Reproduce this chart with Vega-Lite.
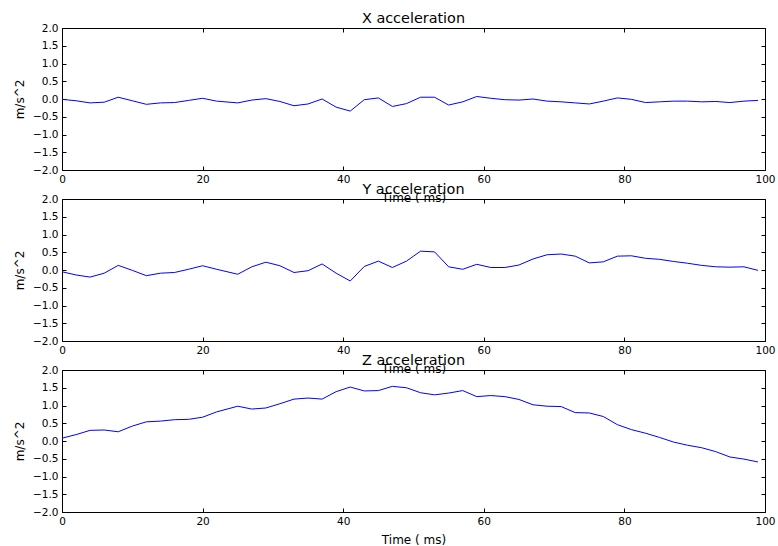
{
  "$schema": "https://vega.github.io/schema/vega-lite/v6.json",
  "background": "white",
  "padding": {"left": 13, "top": 10, "right": 5, "bottom": 2},
  "data": {"values": [
    {"t":0,"ax":-0.01,"ay":-0.05,"az":0.08},
    {"t":2,"ax":-0.05,"ay":-0.14,"az":0.18},
    {"t":4,"ax":-0.11,"ay":-0.20,"az":0.30},
    {"t":6,"ax":-0.09,"ay":-0.09,"az":0.31},
    {"t":8,"ax":0.05,"ay":0.13,"az":0.26},
    {"t":10,"ax":-0.05,"ay":-0.01,"az":0.42},
    {"t":12,"ax":-0.15,"ay":-0.16,"az":0.54},
    {"t":14,"ax":-0.11,"ay":-0.09,"az":0.56},
    {"t":16,"ax":-0.10,"ay":-0.07,"az":0.60},
    {"t":18,"ax":-0.04,"ay":0.02,"az":0.61},
    {"t":20,"ax":0.02,"ay":0.12,"az":0.67},
    {"t":22,"ax":-0.06,"ay":0.02,"az":0.82},
    {"t":25,"ax":-0.11,"ay":-0.12,"az":0.98},
    {"t":27,"ax":-0.03,"ay":0.09,"az":0.90},
    {"t":29,"ax":0.01,"ay":0.22,"az":0.93},
    {"t":31,"ax":-0.07,"ay":0.12,"az":1.05},
    {"t":33,"ax":-0.19,"ay":-0.07,"az":1.18},
    {"t":35,"ax":-0.14,"ay":-0.02,"az":1.21},
    {"t":37,"ax":0.00,"ay":0.17,"az":1.18},
    {"t":39,"ax":-0.23,"ay":-0.09,"az":1.39},
    {"t":41,"ax":-0.34,"ay":-0.31,"az":1.52},
    {"t":43,"ax":-0.02,"ay":0.10,"az":1.41},
    {"t":45,"ax":0.03,"ay":0.25,"az":1.42},
    {"t":47,"ax":-0.21,"ay":0.07,"az":1.54},
    {"t":49,"ax":-0.13,"ay":0.25,"az":1.50},
    {"t":51,"ax":0.05,"ay":0.53,"az":1.36},
    {"t":53,"ax":0.05,"ay":0.51,"az":1.30},
    {"t":55,"ax":-0.17,"ay":0.09,"az":1.35},
    {"t":57,"ax":-0.08,"ay":0.02,"az":1.42},
    {"t":59,"ax":0.07,"ay":0.16,"az":1.25},
    {"t":61,"ax":0.02,"ay":0.07,"az":1.28},
    {"t":63,"ax":-0.02,"ay":0.07,"az":1.25},
    {"t":65,"ax":-0.03,"ay":0.14,"az":1.17},
    {"t":67,"ax":0.00,"ay":0.31,"az":1.02},
    {"t":69,"ax":-0.06,"ay":0.43,"az":0.98},
    {"t":71,"ax":-0.08,"ay":0.45,"az":0.97},
    {"t":73,"ax":-0.11,"ay":0.39,"az":0.80},
    {"t":75,"ax":-0.14,"ay":0.20,"az":0.79},
    {"t":77,"ax":-0.06,"ay":0.23,"az":0.69},
    {"t":79,"ax":0.03,"ay":0.39,"az":0.46},
    {"t":81,"ax":-0.01,"ay":0.40,"az":0.32},
    {"t":83,"ax":-0.10,"ay":0.33,"az":0.22},
    {"t":85,"ax":-0.08,"ay":0.30,"az":0.10},
    {"t":87,"ax":-0.06,"ay":0.24,"az":-0.03},
    {"t":89,"ax":-0.06,"ay":0.19,"az":-0.12},
    {"t":91,"ax":-0.08,"ay":0.13,"az":-0.19},
    {"t":93,"ax":-0.07,"ay":0.09,"az":-0.30},
    {"t":95,"ax":-0.10,"ay":0.08,"az":-0.45},
    {"t":97,"ax":-0.06,"ay":0.09,"az":-0.51},
    {"t":99,"ax":-0.04,"ay":-0.01,"az":-0.59}
  ]},
  "spacing": 29,
  "bounds": "flush",
  "vconcat": [
    {
      "title": "X acceleration",
      "width": 703, "height": 142,
      "layer": [
        {"mark": {"type": "line", "color": "#0000ff", "strokeWidth": 1},
         "encoding": {
           "x": {"field": "t", "type": "quantitative", "scale": {"domain": [0, 100]}, "axis": {"title": "Time ( ms)", "values": [0,20,40,60,80,100]}},
           "y": {"field": "ax", "type": "quantitative", "scale": {"domain": [-2, 2]}, "axis": {"title": "m/s^2", "values": [-2,-1.5,-1,-0.5,0,0.5,1,1.5,2], "format": ".1f"}}
         }},
        {"mark": {"type": "line", "opacity": 0},
         "encoding": {
           "x": {"field": "t", "type": "quantitative", "scale": {"domain": [0, 100]}, "axis": {"orient": "top", "title": null, "labels": false, "values": [0,20,40,60,80,100]}},
           "y": {"field": "ax", "type": "quantitative", "scale": {"domain": [-2, 2]}, "axis": {"orient": "right", "title": null, "labels": false, "values": [-2,-1.5,-1,-0.5,0,0.5,1,1.5,2]}}
         }}
      ],
      "resolve": {"axis": {"x": "independent", "y": "independent"}}
    },
    {
      "title": "Y acceleration",
      "width": 703, "height": 142,
      "layer": [
        {"mark": {"type": "line", "color": "#0000ff", "strokeWidth": 1},
         "encoding": {
           "x": {"field": "t", "type": "quantitative", "scale": {"domain": [0, 100]}, "axis": {"title": "Time ( ms)", "values": [0,20,40,60,80,100]}},
           "y": {"field": "ay", "type": "quantitative", "scale": {"domain": [-2, 2]}, "axis": {"title": "m/s^2", "values": [-2,-1.5,-1,-0.5,0,0.5,1,1.5,2], "format": ".1f"}}
         }},
        {"mark": {"type": "line", "opacity": 0},
         "encoding": {
           "x": {"field": "t", "type": "quantitative", "scale": {"domain": [0, 100]}, "axis": {"orient": "top", "title": null, "labels": false, "values": [0,20,40,60,80,100]}},
           "y": {"field": "ay", "type": "quantitative", "scale": {"domain": [-2, 2]}, "axis": {"orient": "right", "title": null, "labels": false, "values": [-2,-1.5,-1,-0.5,0,0.5,1,1.5,2]}}
         }}
      ],
      "resolve": {"axis": {"x": "independent", "y": "independent"}}
    },
    {
      "title": "Z acceleration",
      "width": 703, "height": 142,
      "layer": [
        {"mark": {"type": "line", "color": "#0000ff", "strokeWidth": 1},
         "encoding": {
           "x": {"field": "t", "type": "quantitative", "scale": {"domain": [0, 100]}, "axis": {"title": "Time ( ms)", "values": [0,20,40,60,80,100]}},
           "y": {"field": "az", "type": "quantitative", "scale": {"domain": [-2, 2]}, "axis": {"title": "m/s^2", "values": [-2,-1.5,-1,-0.5,0,0.5,1,1.5,2], "format": ".1f"}}
         }},
        {"mark": {"type": "line", "opacity": 0},
         "encoding": {
           "x": {"field": "t", "type": "quantitative", "scale": {"domain": [0, 100]}, "axis": {"orient": "top", "title": null, "labels": false, "values": [0,20,40,60,80,100]}},
           "y": {"field": "az", "type": "quantitative", "scale": {"domain": [-2, 2]}, "axis": {"orient": "right", "title": null, "labels": false, "values": [-2,-1.5,-1,-0.5,0,0.5,1,1.5,2]}}
         }}
      ],
      "resolve": {"axis": {"x": "independent", "y": "independent"}}
    }
  ],
  "config": {
    "font": "DejaVu Sans",
    "view": {"stroke": "black", "strokeWidth": 1},
    "title": {"font": "DejaVu Sans", "fontSize": 14.4, "fontWeight": "normal", "color": "black", "offset": -3, "frame": "group", "anchor": "middle"},
    "axis": {
      "grid": false, "domain": false,
      "tickColor": "black", "tickSize": -4, "tickWidth": 1,
      "labelFont": "DejaVu Sans", "labelFontSize": 10.5, "labelColor": "black", "labelPadding": 8,
      "labelFlush": false, "labelOverlap": false,
      "titleFont": "DejaVu Sans", "titleFontSize": 12, "titleFontWeight": "normal", "titleColor": "black"
    },
    "axisX": {"titlePadding": 8},
    "axisY": {"titlePadding": 6}
  }
}
